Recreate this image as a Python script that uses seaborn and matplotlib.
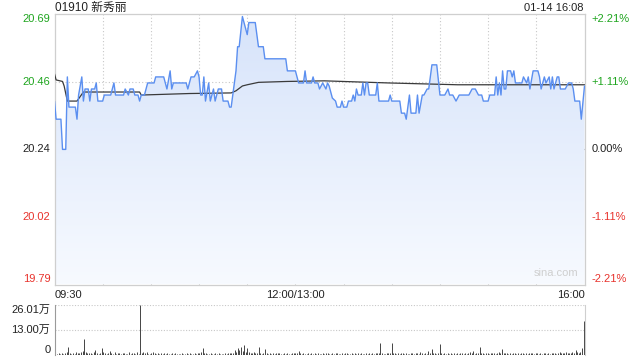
import numpy as np
import pandas as pd
import matplotlib
matplotlib.use("Agg")
import matplotlib.pyplot as plt
import seaborn as sns
from matplotlib.colors import LinearSegmentedColormap

# ---------------- data ----------------
title_code = "01910 新秀丽"
stamp = "01-14 16:08"
prev_close = 20.24
pct_levels = [-0.0221, -0.0111, 0.0, 0.0111, 0.0221]
left_labels = ["19.79", "20.02", "20.24", "20.46", "20.69"]
right_labels = ["-2.21%", "-1.11%", "0.00%", "+1.11%", "+2.21%"]
x_tick_minutes = [0, 150, 330]
x_tick_labels = ["09:30", "12:00/13:00", "16:00"]
vol_tick_values = [0, 13.00, 26.01]
vol_tick_labels = ["0", "13.00万", "26.01万"]

price_minutes = [0, 1, 4, 5, 7, 8, 9, 13, 14, 15, 17, 18, 19, 21, 22, 23, 24, 25, 26, 27,
                 30, 31, 35, 36, 37, 38, 43, 44, 46, 47, 49, 50, 52, 53, 54, 56, 57, 58, 62, 63,
                 68, 70, 72, 73, 74, 82, 83, 84, 85, 87, 89, 90, 91, 92, 93, 94, 96, 97, 99, 100,
                 102, 104, 105, 108, 109, 110, 111, 113, 114, 115, 117, 118, 120, 121, 125, 127, 130, 131, 144, 145,
                 150, 152, 155, 156, 157, 160, 161, 162, 164, 165, 166, 167, 169, 170, 171, 173, 175, 176, 178, 179,
                 180, 182, 183, 185, 186, 187, 188, 189, 191, 192, 193, 194, 195, 196, 200, 201, 202, 208, 209, 210,
                 215, 216, 218, 219, 221, 222, 225, 226, 227, 229, 230, 232, 233, 235, 238, 240, 243, 245, 246, 248,
                 250, 252, 258, 260, 262, 264, 266, 267, 270, 271, 274, 275, 276, 277, 278, 279, 280, 281, 282, 284,
                 285, 286, 287, 291, 292, 294, 295, 296, 298, 301, 302, 303, 305, 306, 308, 309, 310, 311, 313, 314,
                 315, 318, 320, 322, 323, 324, 327, 328, 330]
price_values = [20.40, 20.34, 20.34, 20.24, 20.24, 20.48, 20.38, 20.38, 20.34, 20.42, 20.48, 20.40, 20.44, 20.44, 20.40, 20.44, 20.44, 20.44, 20.46, 20.40,
                20.40, 20.42, 20.42, 20.44, 20.46, 20.42, 20.42, 20.44, 20.42, 20.44, 20.44, 20.42, 20.42, 20.40, 20.42, 20.42, 20.44, 20.46, 20.46, 20.48,
                20.48, 20.44, 20.50, 20.44, 20.46, 20.46, 20.44, 20.46, 20.48, 20.48, 20.50, 20.48, 20.42, 20.42, 20.48, 20.40, 20.46, 20.40, 20.44, 20.40,
                20.44, 20.44, 20.40, 20.40, 20.38, 20.38, 20.42, 20.50, 20.58, 20.58, 20.68, 20.66, 20.62, 20.66, 20.66, 20.58, 20.58, 20.54, 20.54, 20.50,
                20.50, 20.46, 20.46, 20.50, 20.46, 20.46, 20.48, 20.46, 20.46, 20.44, 20.45, 20.46, 20.44, 20.46, 20.45, 20.41, 20.40, 20.38, 20.38, 20.40,
                20.38, 20.38, 20.40, 20.40, 20.42, 20.40, 20.44, 20.42, 20.42, 20.46, 20.42, 20.46, 20.46, 20.42, 20.42, 20.46, 20.40, 20.40, 20.42, 20.40,
                20.40, 20.36, 20.36, 20.34, 20.42, 20.36, 20.36, 20.42, 20.36, 20.42, 20.42, 20.44, 20.44, 20.52, 20.52, 20.42, 20.42, 20.44, 20.42, 20.42,
                20.40, 20.42, 20.42, 20.44, 20.44, 20.42, 20.42, 20.40, 20.40, 20.42, 20.42, 20.48, 20.42, 20.46, 20.42, 20.50, 20.44, 20.44, 20.50, 20.50,
                20.48, 20.50, 20.46, 20.46, 20.48, 20.46, 20.48, 20.44, 20.50, 20.50, 20.48, 20.44, 20.48, 20.46, 20.48, 20.44, 20.48, 20.44, 20.48, 20.48,
                20.44, 20.44, 20.46, 20.46, 20.44, 20.40, 20.40, 20.34, 20.45]

avg_minutes = [0, 1, 5, 6, 8, 14, 18, 30, 53, 54, 84, 110, 113, 117, 120, 127, 145, 168, 208, 251, 330]
avg_values = [20.49, 20.47, 20.465, 20.45, 20.40, 20.40, 20.43, 20.43, 20.43, 20.42, 20.425, 20.427,
              20.434, 20.45, 20.454, 20.462, 20.465, 20.467, 20.46, 20.454, 20.454]

# volume in units of 万 (10k shares), one value per minute 0..330
volume_wan = [
    5.7, 0.6, 0.8, 0.5, 1.2, 0.7, 0.9, 1.5, 4.0, 1.1, 0.6, 0.8, 0.7, 1.6, 1.0, 0.9, 1.8, 2.0, 8.2, 1.7, 1.2, 0.8, 1.3, 0.6, 1.5, 2.4, 1.0, 0.7, 1.2, 3.5,
    1.4, 0.9, 0.6, 1.0, 2.0, 0.8, 0.5, 1.6, 0.7, 0.9, 1.1, 0.6, 0.8, 1.3, 0.5, 0.7, 1.4, 0.6, 0.9, 0.8, 0.6, 1.5, 0.7, 26.01, 1.2, 1.8, 0.9, 1.5, 0.7, 0.6,
    1.0, 1.4, 0.8, 0.6, 0.9, 0.5, 1.2, 0.7, 0.8, 0.6, 1.0, 0.7, 0.5, 0.9, 0.6, 0.8, 0.5, 0.7, 0.6, 0.9, 0.5, 0.7, 0.8, 0.6, 1.0, 0.7, 0.5, 0.8, 0.6, 1.1,
    0.9, 1.5, 3.6, 1.2, 0.8, 0.6, 0.7, 1.0, 0.6, 0.5, 0.8, 0.6, 0.9, 0.7, 0.5, 0.6, 0.8, 0.7, 0.9, 1.2, 1.0, 0.8, 2.4, 1.6, 3.5, 2.8, 4.0, 2.2, 5.2, 1.4,
    3.6, 1.8, 1.2, 0.9, 1.5, 1.0, 0.8, 4.0, 1.1, 0.7, 0.9, 3.0, 0.8, 0.6, 1.2, 0.7, 0.9, 0.5, 0.8, 1.0, 1.1, 0.6, 0.7, 0.8, 0.5, 0.9, 0.6, 0.7, 1.0, 0.8,
    0.9, 1.2, 2.0, 0.8, 0.6, 1.0, 0.7, 0.5, 0.8, 0.6, 0.9, 0.7, 1.0, 0.6, 0.8, 0.5, 0.7, 0.9, 0.6, 1.1, 0.8, 0.5, 0.7, 0.9, 0.6, 1.2, 0.8, 0.7, 0.5, 0.9,
    0.6, 0.8, 1.0, 0.7, 0.5, 0.9, 0.6, 0.8, 0.7, 1.0, 0.6, 0.9, 0.5, 0.7, 0.8, 0.6, 1.0, 0.7, 0.8, 0.6, 0.9, 1.2, 0.8, 6.4, 1.0, 0.7, 0.6, 0.9, 1.1, 0.8,
    6.4, 1.0, 0.8, 0.6, 0.9, 0.7, 1.2, 0.8, 0.6, 0.9, 0.7, 0.5, 0.8, 1.1, 0.6, 0.9, 1.3, 0.7, 1.8, 0.8, 0.6, 1.0, 0.7, 2.0, 0.9, 3.0, 1.1, 0.8, 0.7, 1.2,
    5.7, 1.0, 0.7, 0.9, 0.6, 0.8, 0.5, 0.9, 0.7, 1.0, 0.6, 0.8, 0.7, 1.2, 0.9, 0.6, 0.8, 0.7, 1.1, 1.5, 0.9, 2.0, 0.7, 1.0, 0.8, 4.0, 1.2, 0.9, 0.7, 1.0,
    0.8, 0.6, 1.1, 0.9, 1.3, 0.7, 0.8, 1.5, 1.0, 3.0, 1.2, 0.8, 1.0, 0.7, 0.9, 0.6, 1.1, 0.8, 0.7, 1.0, 0.6, 0.9, 0.8, 0.7, 1.0, 0.6, 0.9, 1.2, 0.8, 0.7,
    1.0, 0.8, 0.6, 0.9, 0.7, 1.1, 0.8, 0.6, 1.0, 0.7, 0.9, 0.8, 1.2, 0.7, 1.0, 1.4, 0.8, 0.9, 1.1, 1.6, 0.9, 1.3, 1.0, 1.5, 1.2, 2.6, 1.8, 1.0, 1.5, 3.5,
    17.8,
]

# ---------------- style ----------------
sns.set_style("white")
plt.rcParams['font.family'] = ['Liberation Sans', 'Noto Sans CJK SC']
plt.rcParams['axes.unicode_minus'] = False

GREEN = "#1ea51e"
RED = "#e8332d"
BLUE = "#5b8ff0"
GRID = "#c8c8c8"
SPINE = "#cfcfcf"
FS = 8

W, H = 640, 360
fig = plt.figure(figsize=(W / 100, H / 100), dpi=100)

def frac(x0, y0, x1, y1):
    return [x0 / W, 1 - y1 / H, (x1 - x0) / W, (y1 - y0) / H]

ax = fig.add_axes(frac(54.5, 14.3, 584.5, 284.5))
axv = fig.add_axes(frac(54.5, 305, 584.5, 355))

ylo = prev_close * (1 + pct_levels[0])
yhi = prev_close * (1 + pct_levels[-1])
tick_prices = [prev_close * (1 + p) for p in pct_levels]

df_price = pd.DataFrame({"minute": price_minutes, "price": price_values})
df_avg = pd.DataFrame({"minute": avg_minutes, "price": avg_values})

# gradient fill under price line
poly = ax.fill_between(df_price["minute"], df_price["price"], ylo, color="none", lw=0)
grad = np.linspace(0, 1, 256).reshape(-1, 1)
cmap = LinearSegmentedColormap.from_list("g", ["#f7faff", "#d6e3fa"])
img = ax.imshow(grad, extent=[0, 330, ylo, yhi], origin="lower", aspect="auto",
                cmap=cmap, zorder=1)
img.set_clip_path(poly.get_paths()[0], transform=ax.transData)
poly.remove()

# grid lines
for m in range(30, 330, 30):
    ax.axvline(m, color=GRID, lw=0.8, ls=(0, (1, 2)), zorder=0.5)
for tp in tick_prices[1:-1]:
    if abs(tp - prev_close) < 1e-9:
        ax.axhline(tp, color="#b0b0b0", lw=0.8, ls=(0, (3, 2)), zorder=0.5)
    else:
        ax.axhline(tp, color=GRID, lw=0.8, ls=(0, (1, 2)), zorder=0.5)

sns.lineplot(data=df_avg, x="minute", y="price", ax=ax, color="#3a3a3a", lw=0.9,
             zorder=3, estimator=None)
sns.lineplot(data=df_price, x="minute", y="price", ax=ax, color=BLUE, lw=1.0,
             zorder=4, estimator=None)

ax.set_xlim(0, 330)
ax.set_ylim(ylo, yhi)
ax.set_xlabel("")
ax.set_ylabel("")
for s in ax.spines.values():
    s.set_color(SPINE)
    s.set_linewidth(0.9)

lab_colors = [RED, RED, "#222222", GREEN, GREEN]
v_align = ["bottom", "center", "center", "center", "top"]

ax.set_yticks(tick_prices)
ax.set_yticklabels(left_labels, fontsize=FS)
ax.tick_params(axis="y", length=0, pad=3)
for t, c, va in zip(ax.get_yticklabels(), lab_colors, v_align):
    t.set_color(c)
    t.set_va(va)

ax.set_xticks(x_tick_minutes)
ax.set_xticklabels(x_tick_labels, fontsize=FS, color="#222222")
ax.tick_params(axis="x", length=0, pad=4)
xl = ax.get_xticklabels()
xl[0].set_ha("left")
xl[1].set_ha("center")
xl[2].set_ha("right")

axr = ax.twinx()
axr.set_ylim(ylo, yhi)
axr.set_yticks(tick_prices)
axr.set_yticklabels(right_labels, fontsize=FS)
axr.tick_params(axis="y", length=0, pad=5)
for t, c, va in zip(axr.get_yticklabels(), lab_colors, v_align):
    t.set_color(c)
    t.set_va(va)
for s in axr.spines.values():
    s.set_visible(False)

fig.text(55 / W, 1 - 8 / H, title_code, fontsize=FS + 0.5, color="#222222",
         ha="left", va="center")
fig.text(583 / W, 1 - 8 / H, stamp, fontsize=FS, color="#222222",
         ha="right", va="center")
ax.text(0.988, 0.025, "sina.com", transform=ax.transAxes, fontsize=FS,
        color="#cfcfcf", ha="right", va="bottom", zorder=5)

# volume panel
minutes_all = np.arange(len(volume_wan))
axv.vlines(minutes_all, 0, volume_wan, color="#444444", lw=0.7)
axv.set_xlim(-0.5, 330.5)
axv.set_ylim(0, vol_tick_values[-1])
axv.set_xticks([])
axv.set_yticks(vol_tick_values)
axv.set_yticklabels(vol_tick_labels, fontsize=FS, color="#222222")
axv.tick_params(axis="y", length=0, pad=3)
for t, va in zip(axv.get_yticklabels(), ["bottom", "center", "top"]):
    t.set_va(va)
for v in vol_tick_values[1:]:
    axv.axhline(v, color=GRID, lw=0.8, ls=(0, (1, 1.5)), zorder=0)
axv.spines["top"].set_visible(False)
axv.spines["bottom"].set_visible(False)
axv.spines["left"].set_color("#9a9a9a")
axv.spines["right"].set_color(SPINE)
axv.set_xlabel("")

fig.savefig("out.png", dpi=100)
